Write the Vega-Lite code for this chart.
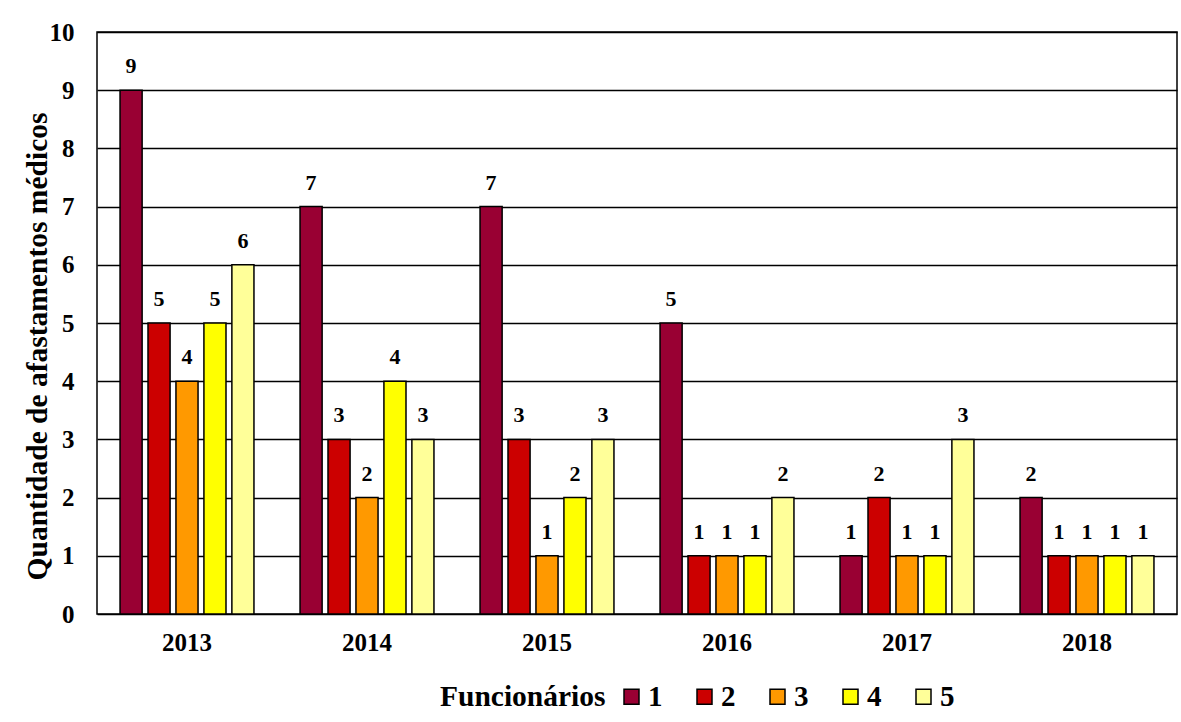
{
  "$schema": "https://vega.github.io/schema/vega-lite/v6.json",
  "width": 1080,
  "height": 582,
  "autosize": "none",
  "padding": {"left": 97, "top": 32, "right": 4, "bottom": 108},
  "background": "white",
  "config": {
    "font": "Liberation Serif",
    "view": {"stroke": "black", "strokeWidth": 1.5}
  },
  "data": {
    "values": [
      {"ano": "2013", "func": "1", "valor": 9},
      {"ano": "2013", "func": "2", "valor": 5},
      {"ano": "2013", "func": "3", "valor": 4},
      {"ano": "2013", "func": "4", "valor": 5},
      {"ano": "2013", "func": "5", "valor": 6},
      {"ano": "2014", "func": "1", "valor": 7},
      {"ano": "2014", "func": "2", "valor": 3},
      {"ano": "2014", "func": "3", "valor": 2},
      {"ano": "2014", "func": "4", "valor": 4},
      {"ano": "2014", "func": "5", "valor": 3},
      {"ano": "2015", "func": "1", "valor": 7},
      {"ano": "2015", "func": "2", "valor": 3},
      {"ano": "2015", "func": "3", "valor": 1},
      {"ano": "2015", "func": "4", "valor": 2},
      {"ano": "2015", "func": "5", "valor": 3},
      {"ano": "2016", "func": "1", "valor": 5},
      {"ano": "2016", "func": "2", "valor": 1},
      {"ano": "2016", "func": "3", "valor": 1},
      {"ano": "2016", "func": "4", "valor": 1},
      {"ano": "2016", "func": "5", "valor": 2},
      {"ano": "2017", "func": "1", "valor": 1},
      {"ano": "2017", "func": "2", "valor": 2},
      {"ano": "2017", "func": "3", "valor": 1},
      {"ano": "2017", "func": "4", "valor": 1},
      {"ano": "2017", "func": "5", "valor": 3},
      {"ano": "2018", "func": "1", "valor": 2},
      {"ano": "2018", "func": "2", "valor": 1},
      {"ano": "2018", "func": "3", "valor": 1},
      {"ano": "2018", "func": "4", "valor": 1},
      {"ano": "2018", "func": "5", "valor": 1}
    ]
  },
  "encoding": {
    "x": {
      "field": "ano", "type": "nominal",
      "scale": {"paddingInner": 0.256, "paddingOuter": 0.128},
      "axis": {
        "title": null, "labelAngle": 0, "labelFont": "Liberation Serif",
        "labelFontSize": 25, "labelFontWeight": "bold", "labelColor": "black",
        "labelPadding": 16, "ticks": false, "domain": false
      }
    },
    "xOffset": {
      "field": "func", "type": "nominal",
      "scale": {"paddingInner": 0.21, "paddingOuter": 0}
    },
    "y": {
      "field": "valor", "type": "quantitative",
      "scale": {"domain": [0, 10], "nice": false},
      "axis": {
        "title": "Quantidade de afastamentos médicos",
        "titleFont": "Liberation Serif", "titleFontSize": 29.5, "titleFontWeight": "bold",
        "titleColor": "black", "titlePadding": -3, "titleY": 314,
        "values": [0,1,2,3,4,5,6,7,8,9,10], "labelOverlap": false,
        "labelFont": "Liberation Serif", "labelFontSize": 25, "labelFontWeight": "bold",
        "labelColor": "black", "labelPadding": 23,
        "ticks": false, "domain": false,
        "grid": true, "gridColor": "black", "gridWidth": 1.5, "gridOpacity": 1
      }
    }
  },
  "layer": [
    {
      "mark": {"type": "bar", "stroke": "black", "strokeWidth": 1.5},
      "encoding": {
        "color": {
          "field": "func", "type": "nominal",
          "scale": {"domain": ["1","2","3","4","5"], "range": ["#990033", "#CC0000", "#FF9900", "#FFFF00", "#FFFF99"]},
          "legend": {
            "title": "Funcionários", "orient": "none", "direction": "horizontal",
            "legendX": 343, "legendY": 650,
            "titleOrient": "left", "titleFont": "Liberation Serif", "titleFontSize": 29.5,
            "titleFontWeight": "bold", "titleColor": "black", "titlePadding": 11,
            "titleBaseline": "middle",
            "labelFont": "Liberation Serif", "labelFontSize": 29, "labelFontWeight": "bold",
            "labelColor": "black", "labelOffset": 2,
            "symbolType": "square", "symbolSize": 225, "symbolStrokeColor": "black",
            "symbolStrokeWidth": 1.5, "columnPadding": 27, "symbolOffset": 0
          }
        }
      }
    },
    {
      "mark": {"type": "text", "baseline": "bottom", "dy": -12, "font": "Liberation Serif", "fontSize": 22, "fontWeight": "bold", "color": "black"},
      "encoding": {
        "text": {"field": "valor", "type": "quantitative"}
      }
    }
  ]
}
